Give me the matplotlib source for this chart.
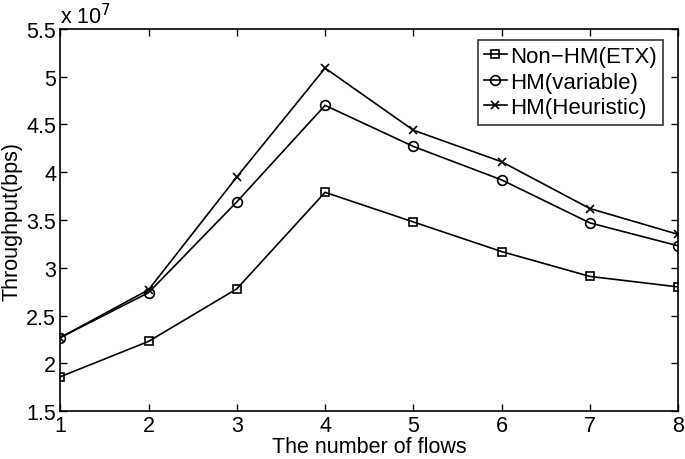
import matplotlib
matplotlib.use("Agg")
import matplotlib.pyplot as plt
from matplotlib.ticker import FuncFormatter

plt.rcParams['font.family'] = ['Liberation Sans', 'DejaVu Sans']

flows = [1, 2, 3, 4, 5, 6, 7, 8]
non_hm_etx = [1.86e7, 2.23e7, 2.78e7, 3.79e7, 3.48e7, 3.17e7, 2.91e7, 2.80e7]
hm_variable = [2.27e7, 2.74e7, 3.69e7, 4.70e7, 4.27e7, 3.92e7, 3.47e7, 3.23e7]
hm_heuristic = [2.27e7, 2.77e7, 3.95e7, 5.09e7, 4.44e7, 4.11e7, 3.62e7, 3.35e7]
yticks = [1.5e7, 2e7, 2.5e7, 3e7, 3.5e7, 4e7, 4.5e7, 5e7, 5.5e7]

fig = plt.figure(figsize=(6.85, 4.6), dpi=100)
ax = fig.add_axes([0.088, 0.104, 0.902, 0.831])

ax.plot(flows, non_hm_etx, color='black', lw=1.2, marker='s', ms=6,
        mfc='none', mew=1.2, label='Non\u2212HM(ETX)')
ax.plot(flows, hm_variable, color='black', lw=1.2, marker='o', ms=7,
        mfc='none', mew=1.2, label='HM(variable)')
ax.plot(flows, hm_heuristic, color='black', lw=1.2, marker='x', ms=5.5,
        mew=1.2, label='HM(Heuristic)')

ax.set_xlim(1, 8)
ax.set_ylim(1.5e7, 5.5e7)
ax.set_xticks(flows)
ax.set_yticks(yticks)
ax.yaxis.set_major_formatter(FuncFormatter(lambda v, p: '%g' % (v / 1e7)))
ax.tick_params(direction='in', top=True, right=True, labelsize=15.5, length=5,
               width=1, pad=3)
for s in ax.spines.values():
    s.set_linewidth(1.2)

ax.text(0.0, 1.003, r'x 10$^7$', transform=ax.transAxes, fontsize=15.5,
        ha='left', va='bottom')
ax.set_xlabel('The number of flows', fontsize=15.5, labelpad=0)
ax.set_ylabel('Throughput(bps)', fontsize=15.5, labelpad=3)

leg = ax.legend(loc='upper right', bbox_to_anchor=(0.976, 0.972),
                fontsize=16, frameon=True, fancybox=False,
                edgecolor='black', handlelength=1.0, handletextpad=0.15,
                borderpad=0.3, labelspacing=0.2, borderaxespad=0)
leg.get_frame().set_linewidth(1.2)

fig.savefig('out.png', dpi=100)
